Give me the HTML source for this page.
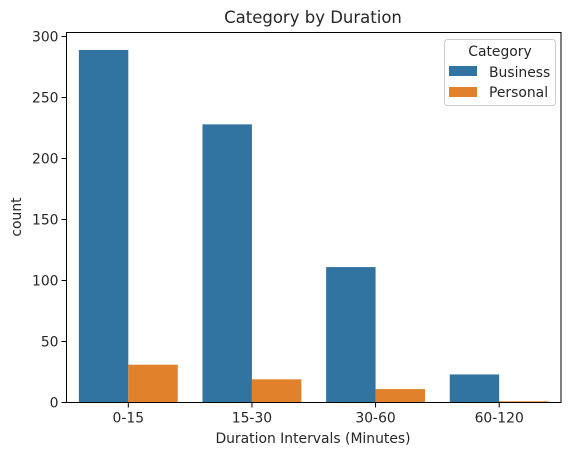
<!DOCTYPE html>
<html><head><meta charset="utf-8"><style>
body{margin:0;background:#fff}
text{font-family:"DejaVu Sans","Liberation Sans",sans-serif;fill:#262626}
</style></head><body>
<svg id="chart" width="571" height="455" xmlns="http://www.w3.org/2000/svg">
<text x="313" y="23" text-anchor="middle" font-size="16.5">Category by Duration</text>
<g id="plot"></g>
<text x="313" y="443" text-anchor="middle" font-size="13.9">Duration Intervals (Minutes)</text>
<text transform="translate(21,217) rotate(-90)" text-anchor="middle" font-size="13.9">count</text>
<g>
<rect x="444.5" y="39.5" width="111" height="66" rx="3" fill="#fff" stroke="#ccc"/>
<text x="500" y="56" text-anchor="middle" font-size="13.9">Category</text>
<rect x="449" y="66" width="28" height="10" fill="#3274a1"/>
<text x="489" y="77" font-size="13.9">Business</text>
<rect x="449" y="87" width="28" height="10" fill="#e1812c"/>
<text x="489" y="97" font-size="13.9">Personal</text>
</g>
</svg>
<script>
const categories=["0-15","15-30","30-60","60-120"];
const business=[289,228,111,23];
const personal=[31,19,11,1];
const yTicks=[0,50,100,150,200,250,300];
const L=66.5,R=561,T=32.5,B=402.5,yMax=303.3;
const ns="http://www.w3.org/2000/svg";
const g=document.getElementById('plot');
const bw=(R-L)/categories.length;
const x=i=>L+bw*(i+0.5);
const y=v=>B-(B-T)*v/yMax;
function mk(t,a){const e=document.createElementNS(ns,t);for(const k in a)e.setAttribute(k,a[k]);g.appendChild(e);return e;}
categories.forEach((c,i)=>{
 let r=mk('rect',{x:x(i)-bw*0.4,y:y(business[i]),width:bw*0.4,height:B-y(business[i]),fill:'#3274a1'});
 
 
 r=mk('rect',{x:x(i),y:y(personal[i]),width:bw*0.4,height:B-y(personal[i]),fill:'#e1812c'});
 
 
 mk('line',{x1:x(i),x2:x(i),y1:B,y2:B+5,stroke:'#000'});
 const t=mk('text',{x:x(i),y:B+20,'text-anchor':'middle','font-size':13.9});t.textContent=c;
 
 
});
yTicks.forEach(v=>{
 mk('line',{x1:L-5,x2:L,y1:y(v),y2:y(v),stroke:'#000'});
 const t=mk('text',{x:L-8,y:y(v)+5,'text-anchor':'end','font-size':13.9});t.textContent=v;
 
 
});
const f=mk('rect',{x:L,y:T,width:R-L,height:B-T,fill:'none',stroke:'#000','stroke-width':1});


</script>
</body></html>
